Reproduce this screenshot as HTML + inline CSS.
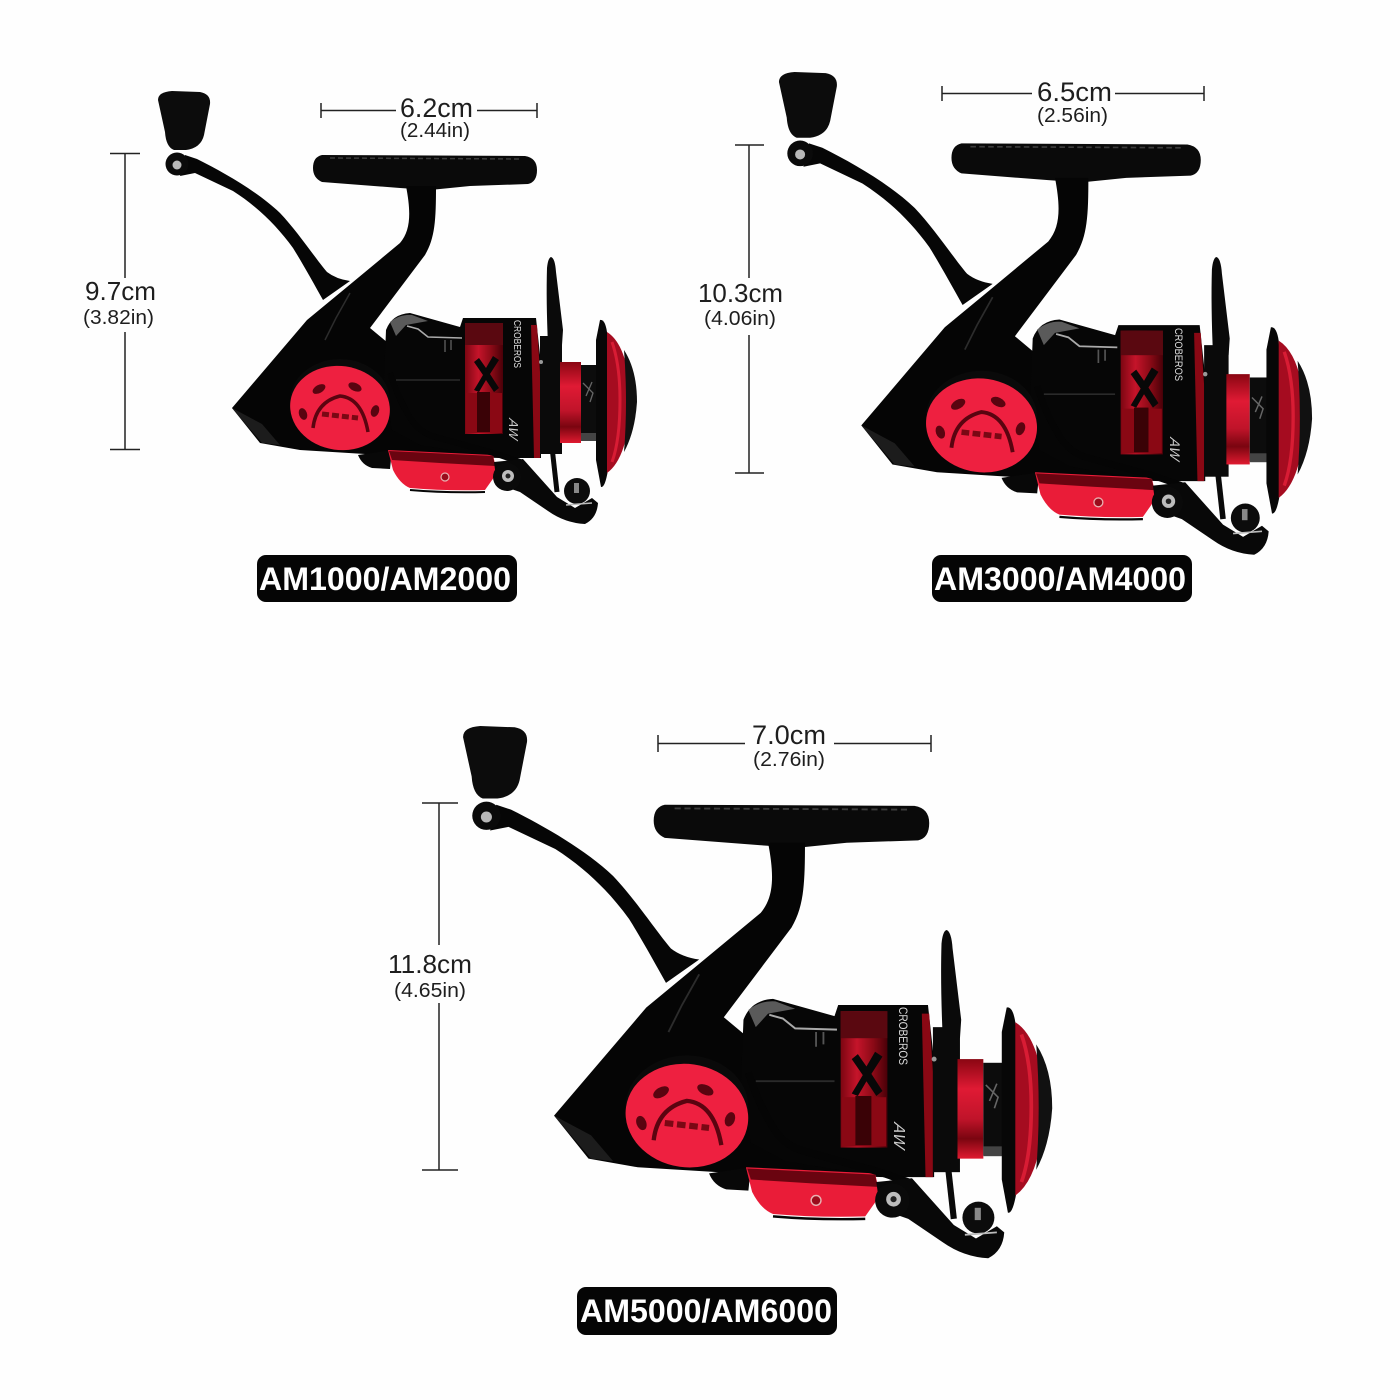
<!DOCTYPE html>
<html><head><meta charset="utf-8"><style>
html,body{margin:0;padding:0;background:#fefefe}
svg{display:block}
text{font-family:"Liberation Sans",sans-serif}
.d{fill:#1e1e1e}
.l{stroke:#222;stroke-width:1.5;fill:none}
.lab{fill:#fff;font-weight:700;font-size:32px}
</style></head><body>
<svg width="1400" height="1400" viewBox="0 0 1400 1400" xmlns="http://www.w3.org/2000/svg">
<defs>
<linearGradient id="rot" x1="0" x2="1" y1="0" y2="0"><stop offset="0" stop-color="#7c0612"/><stop offset=".35" stop-color="#c5142a"/><stop offset=".7" stop-color="#8a0a16"/><stop offset="1" stop-color="#4a0008"/></linearGradient>
<linearGradient id="spool" x1="0" x2="0" y1="0" y2="1"><stop offset="0" stop-color="#8a0612"/><stop offset=".3" stop-color="#e01a34"/><stop offset=".6" stop-color="#c0142a"/><stop offset=".8" stop-color="#7a0510"/><stop offset="1" stop-color="#e01a30"/></linearGradient>
<g id="reel">
<!-- handle arm -->
<path d="M185,155 L197,159 C225,173 258,192 280,213 C298,232 315,258 327,272 Q336,279 350,281 L323,300 C314,284 303,264 293,248 C277,226 258,207 233,191 L195,173 L180,176Z" fill="#060606"/>
<!-- knob -->
<path d="M158,100 Q158,92 172,91 L200,92 Q211,94 210,104 L204,135 Q201,148 186,150 L174,150 Q166,147 165,132Z" fill="#0c0c0c"/>
<circle cx="177" cy="164" r="11.500" fill="#0a0a0a"/>
<circle cx="177" cy="165" r="4.500" fill="#b8b8b8"/>
<!-- foot -->
<path d="M322,155 L525,156 Q537,158 537,170 Q537,182 528,184 L470,186 L430,190 L400,188 L322,182 Q313,178 313,168 Q313,157 322,155Z" fill="#0a0a0a"/>
<path d="M330,158 L520,159" stroke="#3c3c3c" stroke-width="1.500" stroke-dasharray="5 3" fill="none"/>
<!-- stem + body -->
<path d="M406,186 C411,212 411,230 400,243 L347,287 L307,320 L232,408 L260,443 L300,450 L365,454 L500,458 L500,440 L392,372 L388,343 L370,328 L425,255 C435,238 436,220 436,186Z" fill="#050505"/>
<path d="M232,408 L262,424 L280,445 L262,443Z" fill="#1c1c1c"/>
<path d="M350,293 L336,318 L325,340" stroke="#2c2c2c" stroke-width="1.500" fill="none"/>
<!-- main body -->
<path d="M386,330 Q392,314 410,313 L460,327 L463,318 L536,318 L541,364 L541,458 L500,458 L420,445 L392,430 L384,380Z" fill="#060606"/>
<path d="M407,326 L418,329 L428,337 L462,338" stroke="#aaa" stroke-width="1.600" fill="none"/>
<path d="M390,322 Q400,314 412,315 L428,321 L406,325 L396,336Z" fill="#5a5a5a"/>
<path d="M445,340 L445,352 M451,340 L451,350" stroke="#555" stroke-width="1.500"/>
<path d="M396,380 L460,380" stroke="#2a2a2a" stroke-width="1.500"/>
<!-- rotor red -->
<rect x="465" y="323" width="38" height="111" fill="url(#rot)"/>
<rect x="465" y="323" width="38" height="22" fill="#5a0810"/>
<path d="M474,362 L483,375 L474,390 L479,392 L486,380 L494,392 L499,388 L490,374 L499,360 L493,356 L486,368 L479,358Z" fill="#080808"/>
<rect x="466" y="393" width="36" height="40" fill="#8a0814"/>
<rect x="477" y="392" width="13" height="40" fill="#3a0206"/>
<path d="M531,325 L537,325 L540,372 L540,458 L534,458Z" fill="#8a0814"/>
<!-- shaft -->
<rect x="540" y="336" width="22" height="118" fill="#0a0a0a"/>
<circle cx="541" cy="362" r="2" fill="#999"/>
<!-- bail wire top -->
<path d="M551,257 Q555,258 556,272 L563,330 L562,345 L548,345 Q546,300 547,268 Q548,258 551,257Z" fill="#0a0a0a"/>
<!-- spool -->
<rect x="560" y="362" width="21" height="81" fill="url(#spool)"/>
<rect x="581" y="365" width="22" height="75" fill="#0c0c0c"/>
<path d="M583,383 L593,393 L590,402 M592,382 L586,396" stroke="#666" stroke-width="1.300" fill="none"/>
<rect x="581" y="433" width="20" height="8" fill="#444"/>
<!-- flange -->
<path d="M600,320 Q605,319 607,332 L612,400 L608,470 Q605,488 601,487 L596,460 L596,340Z" fill="#070707"/>
<path d="M607,332 Q628,345 631,400 Q628,458 607,473Z" fill="#a50c20"/>
<path d="M612,342 Q620,365 620,400 Q620,440 612,462" stroke="#d81c34" stroke-width="3" fill="none"/>
<path d="M624,350 Q637,370 637,402 Q635,432 624,452 Q628,402 624,350Z" fill="#111"/>
<!-- red knob -->
<ellipse cx="340" cy="401" rx="50" ry="42" fill="#0a0a0a"/>
<ellipse cx="340" cy="408" rx="50" ry="42" fill="#ee2040" transform="rotate(8 340 408)"/>
<ellipse cx="319" cy="389" rx="7" ry="4" fill="#5a0410" transform="rotate(-30 319 389)"/>
<ellipse cx="355" cy="387" rx="7" ry="4" fill="#5a0410" transform="rotate(25 355 387)"/>
<ellipse cx="303" cy="414" rx="4" ry="6" fill="#5a0410" transform="rotate(-20 303 414)"/>
<ellipse cx="375" cy="411" rx="4" ry="6" fill="#5a0410" transform="rotate(20 375 411)"/>
<path d="M313,428 Q316,402 340,396 Q362,398 368,432" stroke="#5a0410" stroke-width="3.500" fill="none"/>
<path d="M322,414 L358,418" stroke="#7a0814" stroke-width="5" fill="none" stroke-dasharray="7 3"/>
<!-- lower plate -->
<path d="M358,455 L392,450 L390,469 L372,468 Q362,465 358,455Z" fill="#080808"/>
<path d="M388,450 L493,455 L497,473 L485,490 Q445,491 410,488 Q400,484 393,470Z" fill="#ea1c38"/>
<path d="M389,451 L493,456 L495,466 L440,463 L392,460Z" fill="#6a0410"/>
<path d="M410,490 Q445,493 485,492" stroke="#070707" stroke-width="2" fill="none"/>
<circle cx="445" cy="477" r="4" fill="#9a0c1c" stroke="#e8b0b0" stroke-width="1.200"/>
<!-- bail arm -->
<path d="M390,373 Q398,398 408,414 Q416,430 432,436 L497,454 L520,462" stroke="#050505" stroke-width="6" fill="none"/>
<path d="M494,462 L523,459 L557,497 L575,508 L592,498 L598,503 Q597,518 585,524 Q565,523 548,511 L520,492 L497,484Z" fill="#080808"/>
<circle cx="507" cy="477" r="14" fill="#0a0a0a"/>
<circle cx="508" cy="476" r="6" fill="#bdbdbd"/>
<circle cx="508" cy="476" r="2.500" fill="#222"/>
<!-- lower bail -->
<path d="M552,447 L557,492" stroke="#0a0a0a" stroke-width="5" fill="none"/>
<circle cx="577" cy="491" r="13" fill="#0c0c0c"/>
<rect x="574" y="483" width="5" height="10" fill="#888"/>
<path d="M566,505 L592,503" stroke="#bbb" stroke-width="1.500"/>
</g>
</defs>

<rect width="1400" height="1400" fill="#fefefe"/>

<!-- Reel 1 -->
<use href="#reel"/>
<text transform="translate(514,320) rotate(90)" font-size="10" fill="#ddd" textLength="48" lengthAdjust="spacingAndGlyphs">CROBEROS</text>
<text transform="translate(509,418) rotate(90) skewX(-12)" font-size="13" fill="#ccc" font-style="italic">AW</text>

<!-- Reel 2 -->
<use href="#reel" transform="translate(603.1,-29.5) scale(1.113,1.115)"/>
<text transform="translate(1175,328) rotate(90)" font-size="11" fill="#ddd" textLength="53" lengthAdjust="spacingAndGlyphs">CROBEROS</text>
<text transform="translate(1170,437) rotate(90) skewX(-12)" font-size="14" fill="#ccc" font-style="italic">AW</text>

<!-- Reel 3 -->
<use href="#reel" transform="translate(268.7,614.2) scale(1.23,1.229)"/>
<text transform="translate(899,1007) rotate(90)" font-size="12" fill="#ddd" textLength="58" lengthAdjust="spacingAndGlyphs">CROBEROS</text>
<text transform="translate(894,1122) rotate(90) skewX(-12)" font-size="16" fill="#ccc" font-style="italic">AW</text>

<!-- Dimensions reel 1 -->
<path class="l" d="M321,103V118M321,110.500H396M477,110.500H537M537,103V118"/>
<text class="d" x="400" y="117" font-size="27" textLength="73" lengthAdjust="spacingAndGlyphs">6.2cm</text>
<text class="d" x="400" y="137" font-size="20" textLength="70" lengthAdjust="spacingAndGlyphs">(2.44in)</text>
<path class="l" d="M110,153.500H140M125,153.500V278M125,332V449.500M110,449.500H140"/>
<text class="d" x="85" y="300" font-size="26" textLength="71" lengthAdjust="spacingAndGlyphs">9.7cm</text>
<text class="d" x="83" y="324" font-size="20" textLength="71" lengthAdjust="spacingAndGlyphs">(3.82in)</text>

<!-- Dimensions reel 2 -->
<path class="l" d="M942,86V101M942,93.500H1032M1115,93.500H1204M1204,86V101"/>
<text class="d" x="1037" y="101" font-size="27" textLength="75" lengthAdjust="spacingAndGlyphs">6.5cm</text>
<text class="d" x="1037" y="122" font-size="20" textLength="71" lengthAdjust="spacingAndGlyphs">(2.56in)</text>
<path class="l" d="M735,145H764M749,145V278M749,335V473M735,473H764"/>
<text class="d" x="698" y="302" font-size="26" textLength="85" lengthAdjust="spacingAndGlyphs">10.3cm</text>
<text class="d" x="704" y="325" font-size="20" textLength="72" lengthAdjust="spacingAndGlyphs">(4.06in)</text>

<!-- Dimensions reel 3 -->
<path class="l" d="M658,735V752M658,743.500H745M834,743.500H931M931,735V752"/>
<text class="d" x="752" y="744" font-size="27" textLength="74" lengthAdjust="spacingAndGlyphs">7.0cm</text>
<text class="d" x="753" y="766" font-size="20" textLength="72" lengthAdjust="spacingAndGlyphs">(2.76in)</text>
<path class="l" d="M422,803H458M439,803V945M439,1003V1170M422,1170H458"/>
<text class="d" x="388" y="973" font-size="26" textLength="84" lengthAdjust="spacingAndGlyphs">11.8cm</text>
<text class="d" x="394" y="997" font-size="20" textLength="72" lengthAdjust="spacingAndGlyphs">(4.65in)</text>

<!-- Labels -->
<rect x="257" y="555" width="260" height="47" rx="9" fill="#050505"/>
<text class="lab" x="259" y="590" textLength="252" lengthAdjust="spacingAndGlyphs">AM1000/AM2000</text>
<rect x="932" y="555" width="260" height="47" rx="9" fill="#050505"/>
<text class="lab" x="934" y="590" textLength="252" lengthAdjust="spacingAndGlyphs">AM3000/AM4000</text>
<rect x="577" y="1287" width="260" height="48" rx="9" fill="#050505"/>
<text class="lab" x="580" y="1322" textLength="252" lengthAdjust="spacingAndGlyphs">AM5000/AM6000</text>
</svg>
</body></html>
